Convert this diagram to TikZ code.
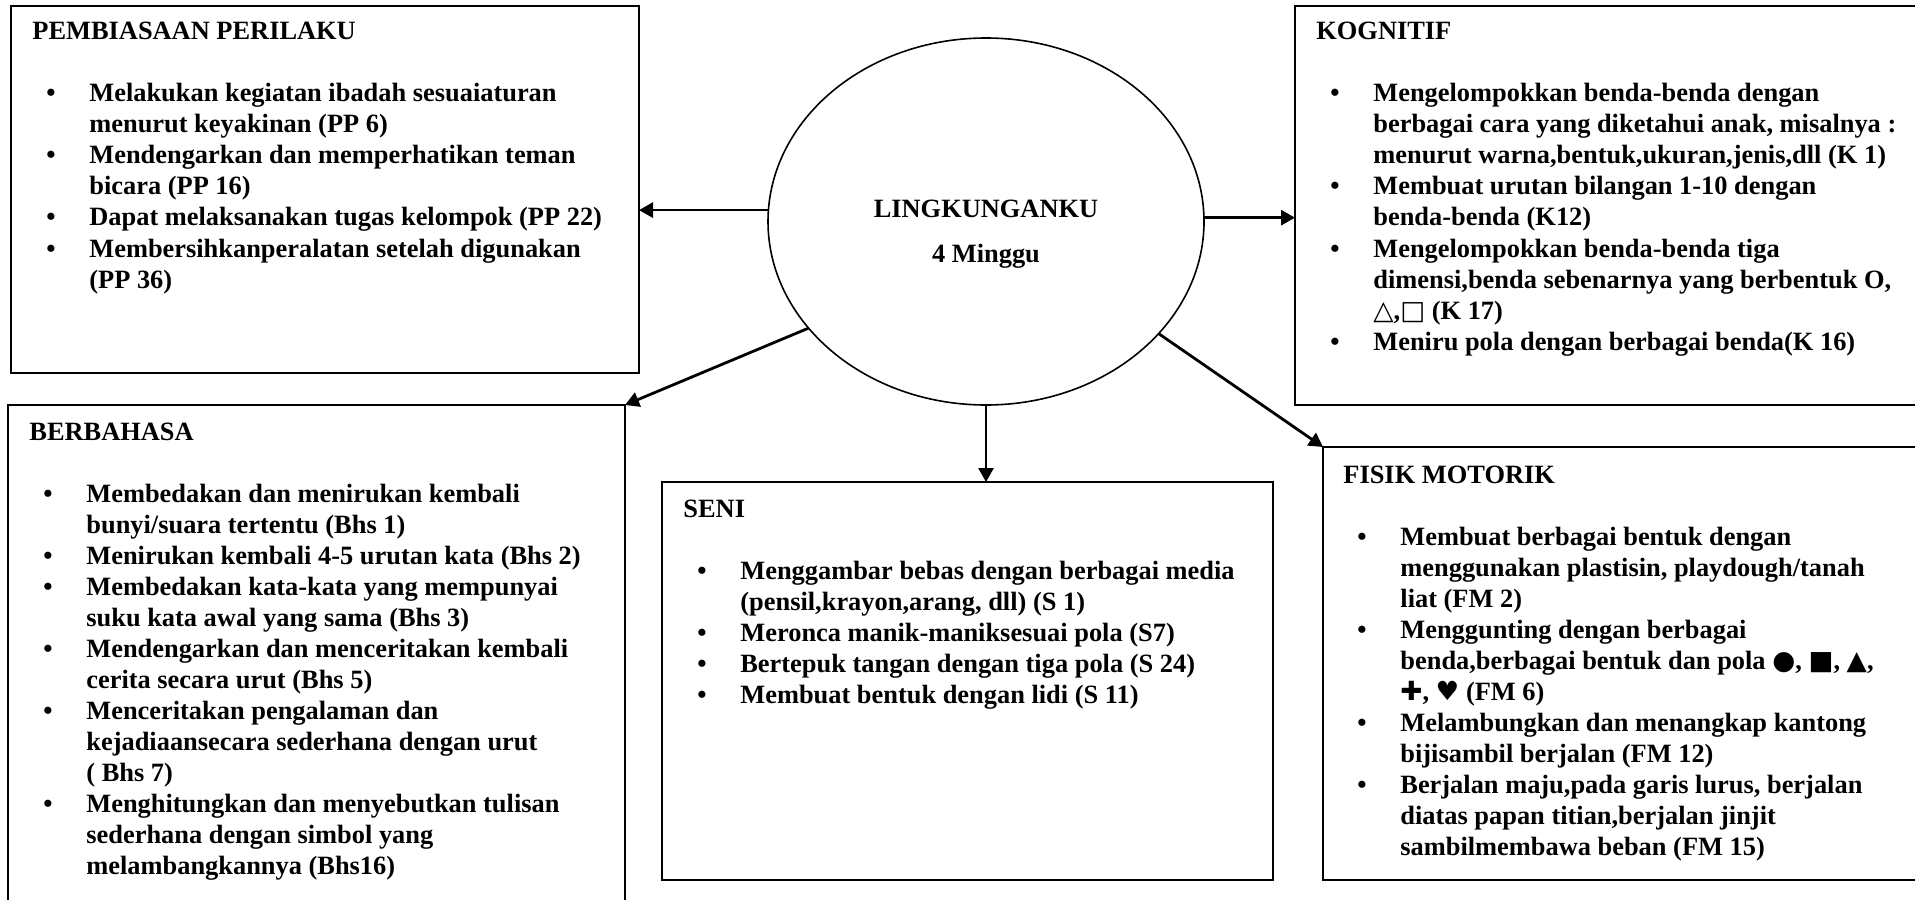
\documentclass[tikz,border=0pt]{standalone}
\usepackage{fontspec}
\setmainfont{Liberation Serif}
\newfontfamily\symf{DejaVu Sans}
\usetikzlibrary{arrows.meta,shapes.geometric}
\newcommand\bu{\makebox[28.5pt][l]{\hspace*{7pt}•}}
\newcommand\ind{\hspace*{28.5pt}}
\begin{document}
\begin{tikzpicture}[x=0.5pt,y=-0.5pt,
  box/.style={draw,line width=1.2pt,rectangle,anchor=north west,inner sep=0pt,outer sep=0pt},
  txt/.style={anchor=base west,inner sep=0pt,font=\fontsize{13.2}{15.5}\selectfont\bfseries},
  ctxt/.style={anchor=base,inner sep=0pt,font=\fontsize{13.2}{15.5}\selectfont\bfseries},
  arr/.style={line width=1.4pt,-{Triangle[length=7pt,width=7.5pt]}},
  oval/.style={draw,ellipse,line width=0.8pt,inner sep=0pt,outer sep=0pt}
]
\useasboundingbox (0,0) rectangle (1915,899);
\clip (0,0) rectangle (1915,899);
\fill[white] (0,0) rectangle (1915,899);

% boxes
\node[box,minimum width=314pt,minimum height=183.5pt] (pp) at (11,6) {};
\node[box,minimum width=320pt,minimum height=199.5pt] (kog) at (1295,6) {};
\node[box,minimum width=308.5pt,minimum height=260pt] (bhs) at (8,405) {};
\node[box,minimum width=305.5pt,minimum height=199pt] (seni) at (662,482) {};
\node[box,minimum width=310pt,minimum height=216.5pt] (fm) at (1323,447) {};
\node[oval,minimum width=218pt,minimum height=183.5pt] (ell) at (986,221.5) {};

% centre text
\node[ctxt] (t1) at (986,217) {LINGKUNGANKU};
\node[ctxt] (t2) at (986,262) {4 Minggu};

% texts
\node[txt] (pptext) at (32,40) {\begin{tabular}[t]{@{}l@{}}
PEMBIASAAN PERILAKU\\
\\
\bu Melakukan kegiatan ibadah sesuaiaturan\\
\ind menurut keyakinan (PP 6)\\
\bu Mendengarkan dan memperhatikan teman\\
\ind bicara (PP 16)\\
\bu Dapat melaksanakan tugas kelompok (PP 22)\\
\bu Membersihkanperalatan setelah digunakan\\
\ind (PP 36)
\end{tabular}};

\node[txt] (kogtext) at (1316,40) {\begin{tabular}[t]{@{}l@{}}
KOGNITIF\\
\\
\bu Mengelompokkan benda-benda dengan\\
\ind berbagai cara yang diketahui anak, misalnya :\\
\ind menurut warna,bentuk,ukuran,jenis,dll (K 1)\\
\bu Membuat urutan bilangan 1-10 dengan\\
\ind benda-benda (K12)\\
\bu Mengelompokkan benda-benda tiga\\
\ind dimensi,benda sebenarnya yang berbentuk O,\\
\ind {\symf\mdseries △},{\symf\mdseries □} (K 17)\\
\bu Meniru pola dengan berbagai benda(K 16)
\end{tabular}};

\node[txt] (bhstext) at (29,440) {\begin{tabular}[t]{@{}l@{}}
BERBAHASA\\
\\
\bu Membedakan dan menirukan kembali\\
\ind bunyi/suara tertentu (Bhs 1)\\
\bu Menirukan kembali 4-5 urutan kata (Bhs 2)\\
\bu Membedakan kata-kata yang mempunyai\\
\ind suku kata awal yang sama (Bhs 3)\\
\bu Mendengarkan dan menceritakan kembali\\
\ind cerita secara urut (Bhs 5)\\
\bu Menceritakan pengalaman dan\\
\ind kejadiaansecara sederhana dengan urut\\
\ind ( Bhs 7)\\
\bu Menghitungkan dan menyebutkan tulisan\\
\ind sederhana dengan simbol yang\\
\ind melambangkannya (Bhs16)
\end{tabular}};

\node[txt] (senitext) at (683,517) {\begin{tabular}[t]{@{}l@{}}
SENI\\
\\
\bu Menggambar bebas dengan berbagai media\\
\ind (pensil,krayon,arang, dll) (S 1)\\
\bu Meronca manik-maniksesuai pola (S7)\\
\bu Bertepuk tangan dengan tiga pola (S 24)\\
\bu Membuat bentuk dengan lidi (S 11)
\end{tabular}};

\node[txt] (fmtext) at (1343,483) {\begin{tabular}[t]{@{}l@{}}
FISIK MOTORIK\\
\\
\bu Membuat berbagai bentuk dengan\\
\ind menggunakan plastisin, playdough/tanah\\
\ind liat (FM 2)\\
\bu Menggunting dengan berbagai\\
\ind benda,berbagai bentuk dan pola {\symf ●}, {\symf ■}, {\symf ▲},\\
\ind {\symf ✚}, {\symf ♥} (FM 6)\\
\bu Melambungkan dan menangkap kantong\\
\ind bijisambil berjalan (FM 12)\\
\bu Berjalan maju,pada garis lurus, berjalan\\
\ind diatas papan titian,berjalan jinjit\\
\ind sambilmembawa beban (FM 15)
\end{tabular}};

% connectors
\draw[arr] (ell.177.5) -- (ell.177.5 -| pp.east);
\draw[arr] (ell.1.2) -- (ell.1.2 -| kog.west);
\draw[arr] (ell.211) -- (bhs.north east);
\draw[arr] (ell.south) -- (ell.south |- seni.north);
\draw[arr] (ell.327) -- (fm.north west);
\end{tikzpicture}
\end{document}
